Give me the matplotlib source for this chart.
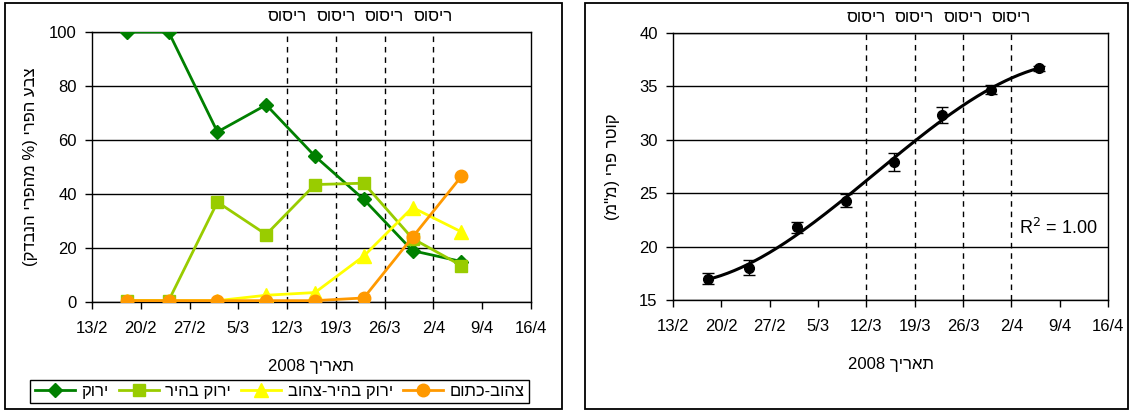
import matplotlib
matplotlib.use("Agg")
import matplotlib.pyplot as plt
import matplotlib.dates as mdates
from matplotlib.patches import Rectangle
import numpy as np
from datetime import datetime

plt.rcParams['font.family'] = ['Liberation Sans', 'DejaVu Sans']
plt.rcParams['font.size'] = 12

# ---------------- data ----------------
sample_dates = ['2008-02-18', '2008-02-24', '2008-03-02', '2008-03-09',
                '2008-03-16', '2008-03-23', '2008-03-30', '2008-04-06']
green = [100, 100, 63, 73, 54, 38, 19, 15]
light_green = [0.5, 0.5, 37, 25, 43.5, 44, 23.5, 13.5]
yellow_green = [0.5, 0.5, 0.5, 2.5, 3.5, 17, 35, 26]
orange_yellow = [0.5, 0.5, 0.5, 0.5, 0.5, 1.5, 24, 46.5]
series_names = ['ירוק', 'ירוק בהיר', 'ירוק בהיר-צהוב', 'צהוב-כתום']

diameter = [17.0, 18.0, 21.8, 24.3, 27.9, 32.3, 34.7, 36.7]
diameter_err = [0.5, 0.7, 0.5, 0.6, 0.85, 0.75, 0.45, 0.25]

spray_dates = ['2008-03-12', '2008-03-19', '2008-03-26', '2008-04-02']
spray_label = 'ריסוס'

tick_dates = ['2008-02-13', '2008-02-20', '2008-02-27', '2008-03-05', '2008-03-12',
              '2008-03-19', '2008-03-26', '2008-04-02', '2008-04-09', '2008-04-16']
tick_labels = ['13/2', '20/2', '27/2', '5/3', '12/3', '19/3', '26/3', '2/4', '9/4', '16/4']

xlabel_word = 'תאריך'
xlabel_year = '2008'
ylabel_left = 'צבע הפרי (% מהפרי הנבדק)'
ylabel_right = 'קוטר פרי (מ"מ)'
r2_text = 'R$^2$ = 1.00'


def rtl(s):
    """Visual (left-to-right drawing) order for a right-to-left string."""
    swap = {'(': ')', ')': '('}
    return ''.join(swap.get(c, c) for c in reversed(s))


def d(s):
    return datetime.strptime(s, '%Y-%m-%d')


x = [d(s) for s in sample_dates]
xt = [d(s) for s in tick_dates]
xs = [d(s) for s in spray_dates]
xlabel = xlabel_year + ' ' + rtl(xlabel_word)

W, H = 1133, 412
fig = plt.figure(figsize=(W / 100, H / 100), dpi=100)


def fr(l, r, t, b):
    return [l / W, 1 - b / H, (r - l) / W, (b - t) / H]


# outer chart boxes
for (l, r) in [(5, 562), (585, 1128)]:
    fig.patches.append(Rectangle((l / W, 3 / H), (r - l) / W, (409 - 3) / H,
                                 transform=fig.transFigure, fill=False,
                                 edgecolor='black', linewidth=1.3))


def style_axis(ax):
    ax.set_xlim(xt[0], xt[-1])
    ax.set_xticks(xt)
    ax.set_xticklabels(tick_labels)
    ax.tick_params(direction='out', length=5, width=1, colors='black', pad=9,
                   labelsize=12)
    ax.tick_params(axis='y', pad=6)
    ax.yaxis.grid(True, color='black', linewidth=1)
    ax.set_axisbelow(True)
    for sp in ax.spines.values():
        sp.set_color('black')
        sp.set_linewidth(1)
    for xd in xs:
        ax.axvline(xd, color='black', linestyle=(0, (4, 3.5)), linewidth=1, zorder=1)
    for xd in xs:
        ax.text(xd, 1.03, rtl(spray_label), transform=ax.get_xaxis_transform(),
                ha='center', va='bottom', fontsize=12)
    ax.set_xlabel(xlabel, fontsize=12, labelpad=16)


# ---------------- left chart ----------------
ax1 = fig.add_axes(fr(92, 531, 32, 302))
style_axis(ax1)
ax1.set_ylim(0, 100)
ax1.set_yticks([0, 20, 40, 60, 80, 100])
ax1.plot(x, green, color='#008000', marker='D', markersize=7.5, linewidth=2,
         label=rtl(series_names[0]), zorder=3)
ax1.plot(x, light_green, color='#99CC00', marker='s', markersize=8, linewidth=2,
         label=rtl(series_names[1]), zorder=4)
ax1.plot(x, yellow_green, color='#FFFF00', marker='^', markersize=10, linewidth=2,
         label=rtl(series_names[2]), zorder=5)
ax1.plot(x, orange_yellow, color='#FF9900', marker='o', markersize=9, linewidth=2,
         label=rtl(series_names[3]), zorder=6)
ax1.set_ylabel(rtl(ylabel_left), fontsize=12, labelpad=8)

leg = fig.legend(loc='center', bbox_to_anchor=(279.5 / W, 1 - 391.5 / H), ncol=4,
                 frameon=True, fancybox=False, edgecolor='black', framealpha=1,
                 handlelength=2.4, columnspacing=0.6, handletextpad=0.4,
                 borderpad=0.25, borderaxespad=0, fontsize=12)
leg.get_frame().set_linewidth(1)

# ---------------- right chart ----------------
ax2 = fig.add_axes(fr(673, 1108, 33, 300))
style_axis(ax2)
ax2.set_ylim(15, 40)
ax2.set_yticks([15, 20, 25, 30, 35, 40])
xnum = mdates.date2num(x)
x0 = xnum[0]
coef = np.polyfit(xnum - x0, diameter, 3)
xx = np.linspace(xnum[0], xnum[-1], 200)
yy = np.polyval(coef, xx - x0)
ax2.plot(mdates.num2date(xx), yy, color='black', linewidth=2.2, zorder=3)
ax2.errorbar(x, diameter, yerr=diameter_err, fmt='o', color='black', markersize=7,
             ecolor='black', elinewidth=1, capsize=4, capthick=1, zorder=4)
ax2.set_ylabel(rtl(ylabel_right), fontsize=12, labelpad=14)
ax2.text(0.975, (21.7 - 15) / 25, r2_text, transform=ax2.transAxes, ha='right',
         va='center', fontsize=13, bbox=dict(facecolor='white', edgecolor='none', pad=1))

fig.savefig('out.png', dpi=100)
